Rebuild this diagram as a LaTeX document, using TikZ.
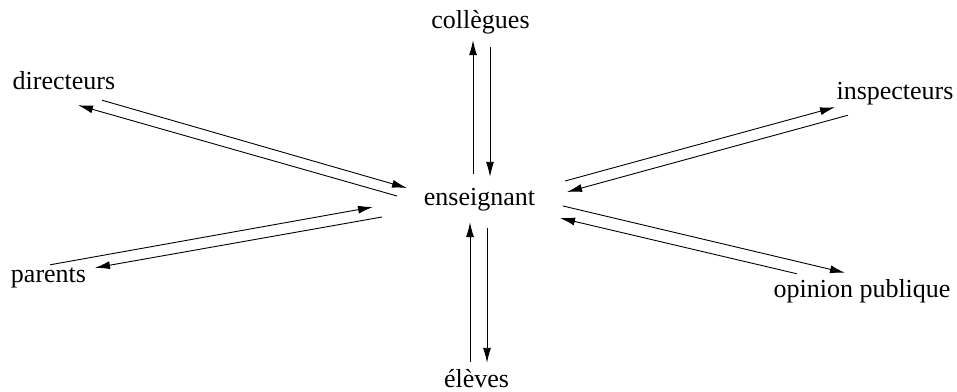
\documentclass[tikz,border=0pt]{standalone}
\usepackage{fontspec}
\setmainfont{Liberation Serif}
\usepackage{tikz}
\usetikzlibrary{arrows.meta}

\begin{document}
\begin{tikzpicture}[x=1pt, y=-1pt,
	lbl/.style={anchor=base, inner sep=0pt, text height=18pt, text depth=6pt, font=\fontsize{26}{30}\selectfont},
	fl/.style={-{Latex[length=15pt,width=8pt]}, line width=0.9pt}]
	\useasboundingbox (0,0) rectangle (957,391);
	
	\node[lbl] (ens) at (479.5,205) {enseignant};
	\node[lbl] (col) at (480.5,28) {collègues};
	\node[lbl] (ele) at (476.5,387) {élèves};
	\node[lbl] (dir) at (64,89) {directeurs};
	\node[lbl] (par) at (48.5,282) {parents};
	\node[lbl] (ins) at (895,99) {inspecteurs};
	\node[lbl] (opi) at (862,297) {opinion publique};
	
	\draw[fl] ([shift={(-6.5,-13)}]ens.north) -- ([shift={(-7.5,6)}]col.south);
	\draw[fl] ([shift={(9.5,13)}]col.south) -- ([shift={(10.5,-10)}]ens.north);
	\draw[fl] ([shift={(-6.5,-7)}]ele.north) -- ([shift={(-9.5,11)}]ens.south);
	\draw[fl] ([shift={(7.5,17)}]ens.south) -- ([shift={(10.5,-6)}]ele.north);
	
	\draw[fl] ([shift={(38,5)}]dir.south) -- ([shift={(-72.5,-11)}]ens.center);
	\draw[fl] ([shift={(-82.5,-3)}]ens.center) -- ([shift={(14,10)}]dir.south);
	\draw[fl] ([shift={(1.5,1)}]par.north) -- ([shift={(-106.5,8)}]ens.center);
	\draw[fl] ([shift={(-97.5,18)}]ens.center) -- ([shift={(46.5,4)}]par.north);
	
	\draw[fl] ([shift={(85.5,-18)}]ens.center) -- ([shift={(-60,2)}]ins.south);
	\draw[fl] ([shift={(-47,10)}]ins.south) -- ([shift={(87.5,-7)}]ens.center);
	\draw[fl] ([shift={(83.5,7)}]ens.center) -- ([shift={(-17,-6)}]opi.north);
	\draw[fl] ([shift={(-65,-5)}]opi.north) -- ([shift={(80.5,19)}]ens.center);
\end{tikzpicture}
\end{document}
